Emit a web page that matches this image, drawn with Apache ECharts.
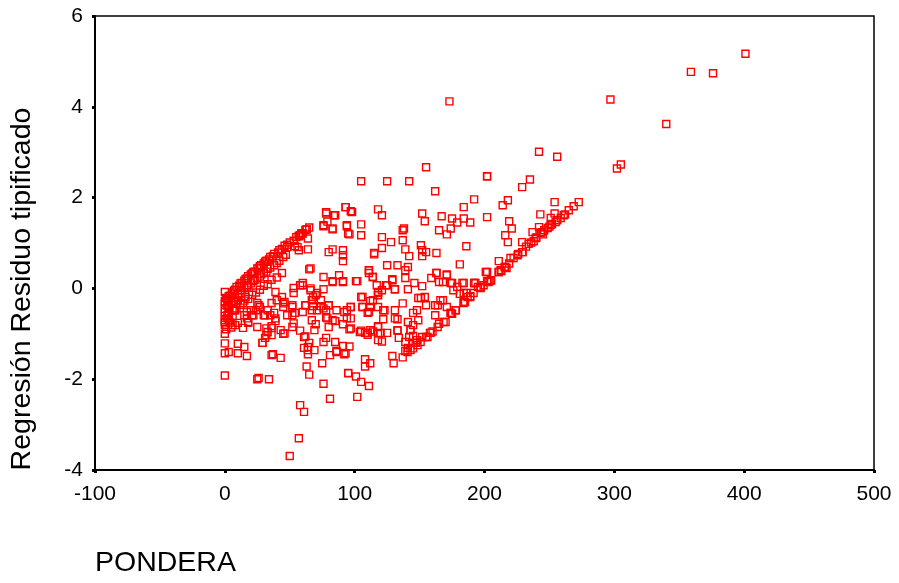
<!DOCTYPE html>
<html>
<head>
<meta charset="utf-8">
<script src="https://cdn.jsdelivr.net/npm/echarts@6/dist/echarts.min.js"></script>
<style>
html,body{margin:0;padding:0;background:#fff;}
#chart{width:899px;height:583px;}
</style>
</head>
<body>
<div id="chart"></div>
<script>
// Axis ticks
const xTicks = [-100, 0, 100, 200, 300, 400, 500];
const yTicks = [-4, -2, 0, 2, 4, 6];
const xTitle = 'PONDERA';
const yTitle = 'Regresión Residuo tipificado';

// [PONDERA, Regresión Residuo tipificado]
const puntosExtremos = [
  [401,5.17],[359,4.77],[376,4.74],[297,4.16],[340,3.62],[305,2.73],[302,2.64],[173,4.12],
  [155,2.67],[125,2.36],[105,2.36],[142,2.36],[162,2.14],[192,1.96],[202,2.47],[242,3.01],
  [256,2.90],[235,2.40],[229,2.23],[218,1.94],[214,1.83],[254,1.90]
];

const puntosLineaInferior = [
  [140.7,-1.40],[143,-1.36],[148.4,-1.25],[150.8,-1.18],[156.1,-1.07],[158.5,-0.98],[163.9,-0.85],
  [168.5,-0.74],[173.9,-0.54],[177.7,-0.48],[183.9,-0.32],[187,-0.19],[191.6,-0.10],[197,0.01],
  [199.3,0.07],[203.9,0.16],[210.9,0.36],[212.4,0.40],[215.5,0.47],[222.4,0.67],[225.5,0.73],
  [229.4,0.80],[237.9,1.04],[239.4,1.11],[243.3,1.22],[248.7,1.33],[251,1.40],[254.8,1.46],
  [258.7,1.55],[261,1.61],[264.9,1.72],[268.7,1.81],[272.6,1.90],
  [175,-0.56],[185,-0.30],[205,0.18],[213,0.38],[240,1.12],[250,1.36],[262,1.63],[145,-1.32],
  [160,-0.95],[139,-1.38],[141,-1.31],[147,-1.20],[155,-1.07],[165,-0.78],[170,-0.74],[178,-0.48],
  [193,0.12],[197,0.03],[202,0.16],[205,0.18],[211,0.36],[217,0.45],[219,0.55],[226,0.76],
  [232,0.92],[234,0.98],[236,1.01],[244,1.24],[246,1.28],[252,1.42],[256,1.50]
];

const puntosCentro = [
  [184,1.79],[118,1.74],[121,1.61],[97,1.70],[93,1.79],[152,1.65],[154,1.48],[167,1.59],
  [175,1.54],[184,1.54],[189,1.45],[179,1.45],[174,1.32],[165,1.28],[171,1.19],[105,1.41],
  [105,1.17],[94,1.39],[96,1.19],[121,1.13],[128,1.02],[137,1.28],[138,1.32],[137,1.06],
  [121,0.89],[115,0.75],[151,0.95],[152,0.84],[155,0.80],[152,0.71],[139,0.86],[142,0.71],
  [163,0.78],[186,0.93],[181,0.53],[125,0.51],[133,0.51],[141,0.47],[111,0.40],[114,0.25],
  [102,0.16],[139,0.40],[139,0.23],[129,0.20],[125,0.07],[131,-0.02],[141,-0.02],[146,0.12],
  [152,0.05],[159,0.23],[163,0.34],[171,0.29],[168,0.14],[175,0.12],[183,0.12],[192,0.12],
  [118,-0.08],[118,-0.15],[106,-0.19],[112,-0.28],[176,-0.04],[184,-0.10],[189,-0.19],[184,-0.30],
  [151,-0.21],[168,-0.26],[162,-0.37],[137,-0.33],
  [202,2.47],[202,1.57],[219,1.48],[221,1.32],[216,1.17],[218,1.02],[243,1.63],[251,1.55],
  [254,1.65],[242,1.35],[237,1.24],[245,1.19],[229,1.02],[229,0.80],[211,0.60],[202,0.36],
  [163,0.34],[165,0.14],[171,0.31],[174,0.12],[179,0.03],[184,0.12],[186,-0.10],[181,-0.12],
  [189,-0.17],[192,0.12],[195,0.03],[201,0.36],[203,0.14],[216,0.47],[220,0.67],[174,-0.54],
  [166,-0.26],[171,-0.41],[164,-0.37],[162,-0.59],[155,-0.37],[154,-0.19],[149,-0.21],[148,-0.48],
  [145,-0.54],[149,-0.70],[145,-0.81],[143,-0.92],[142,-1.07],[148,-1.14],[152,-1.07],[158,-0.98],
  [145,-1.20],[139,-1.18],[133,-0.92],[134,-1.09],[122,-0.48],[122,-0.68],[131,-0.66],[125,-0.98],
  [118,-0.83],[120,-0.98],[112,-0.92],[108,-0.98],[110,-0.54],[106,-0.41],[112,-0.41],[114,-0.26],
  [118,-0.10],[121,-0.04],[131,-0.02],[129,0.18],[124,0.07],[117,0.07],[111,0.34],[101,0.16],
  [97,-0.41],[97,-0.66],[97,-0.88],[106,-0.41],[111,-0.52],[118,-0.41],[123,-0.48],[131,-0.48],
  [133,-0.68],[141,-0.74],[96,-0.90],[105,-0.93],[110,-1.02],[114,-0.95],[118,-0.99],[121,-1.17],
  [133,-0.93],[143,-0.92],[145,-1.05],[96,-1.28],[93,-1.43],[129,-1.49],[130,-1.65],[137,-1.52],
  [108,-1.56],[108,-1.72],[112,-1.65],[95,-1.86],[101,-1.94],[105,-2.06],[111,-2.15],[102,-2.39]
];

const puntosBandaSuperior = [
  [0,-0.28],[1,-0.21],[2,-0.24],[3,-0.17],[4,-0.16],[6,-0.09],[7,-0.05],[8,-0.03],[9,0.03],
  [11,0.06],[12,0.11],[13,0.12],[15,0.17],[16,0.21],[17,0.22],[18,0.27],[20,0.31],[21,0.33],
  [22,0.36],[23,0.37],[25,0.44],[26,0.45],[27,0.49],[28,0.51],[30,0.55],[31,0.59],[32,0.61],
  [34,0.64],[35,0.69],[37,0.71],[38,0.76],[41,0.79],[42,0.84],[44,0.87],[46,0.94],[48,0.96],
  [50,1.01],[53,1.05],[55,1.13],[57,1.16],[59,1.21],[62,1.29],[63,1.30],[65,1.34],
  [0,-0.45],[2,-0.39],[3,-0.36],[5,-0.31],[7,-0.28],[8,-0.21],[10,-0.14],[12,-0.11],[13,-0.04],
  [15,0.01],[17,0.04],[18,0.07],[20,0.11],[22,0.16],[23,0.19],[25,0.23],[27,0.26],[28,0.31],
  [30,0.34],[32,0.37],[33,0.43],[35,0.46],[38,0.51],[40,0.56],[42,0.61],[45,0.69],[47,0.74],
  [0,-0.61],[3,-0.54],[6,-0.49],[9,-0.44],[12,-0.36],[15,-0.27],[18,-0.23],[21,-0.14],[24,-0.09],
  [27,-0.03],[30,0.06],[33,0.09],[36,0.19],[40,0.24],[44,0.34],
  [58,1.17],[60,1.21],[63,1.30],[64,1.10],[64,0.86],[48,0.91],[56,0.91],[57,0.84],[54,0.93],
  [59,1.21],[57,1.15],[78,1.68],[78,1.65],[85,1.61],[93,1.79],[98,1.68],[84,1.61],[76,1.37],
  [83,1.30],[79,1.47],[94,1.37],[95,1.21],[76,1.39],[83,1.32],[80,0.80],[83,0.86],[91,0.84],
  [91,0.73],[91,0.60],[65,0.42],[66,0.44],[76,0.25],[83,0.16],[88,0.29],[91,0.16],[83,0.14],
  [91,0.14],[60,0.07],[66,0.00],[76,-0.02],[70,-0.15],[67,-0.26],[62,-0.37],[80,-0.37],[52,-0.41],
  [44,-0.19],[53,-0.10],[46,-0.30],[39,-0.08],[53,0.01],[58,0.07],[60,0.12],[66,-0.04],[68,-0.19],
  [71,-0.10],[74,-0.26],[68,-0.39],[74,-0.39],[78,-0.48],[79,-0.66],[83,-0.70],[86,-0.48],[94,-0.48],
  [97,-0.41],[115,0.78],[111,0.40],[114,0.25],[105,-0.19]
];

const puntosIzquierda = [
  [0,-0.08],[2,-0.26],[3,-0.41],[0,-0.52],[2,-0.59],[7,-0.48],[10,-0.26],[14,-0.32],[16,-0.19],
  [20,-0.48],[22,-0.59],[17,-0.66],[25,-0.32],[27,-0.41],[31,-0.59],[33,-0.48],[36,-0.32],
  [39,-0.66],[40,-0.26],[45,-0.41],[48,-0.59],[43,-0.92],[36,-0.87],[33,-0.96],[29,-1.20],
  [10,-0.76],[6,-0.81],[14,-0.87],[18,-0.74],[25,-0.85],[0,-0.70],[0,-0.80],[1,-0.90],[2,-0.66],
  [4,-0.75],[5,-0.86],[6,-0.62],[0,-0.74],[3,-0.70],[15,-0.59],[21,-0.59],[24,-0.48],[26,-0.37],
  [17,-0.52],[8,-0.48],[6,-0.33],[0,-0.33],[45,-0.33],[52,-0.37],[62,-0.37],[32,-0.88],[36,-0.83],
  [38,-0.54],[35,-0.59],[30,-0.59],[39,-0.72],[18,-0.76],[8,-0.81],[52,-0.59],[54,-0.54],[60,-0.52],
  [67,-0.48],[71,-0.48],[76,-0.44],[78,-0.64],[80,-0.37],[67,-0.70],[70,-0.79],[69,-0.92],[80,-0.85],
  [85,-0.72],[91,-0.79],[92,-0.52],[94,-0.66],[52,-0.85],[53,-0.77],[58,-0.93],[62,-1.06],[65,-1.20],
  [46,-0.99],[45,-1.00],[31,-1.09],[32,-1.03],[36,-1.03],[29,-1.20],[10,-1.22],[15,-1.29],[0,-1.00],
  [0,-1.21],[0,-1.43],[3,-1.40],[10,-1.43],[17,-1.49],[36,-1.47],[37,-1.45],[43,-1.53],[61,-1.07],
  [64,-1.29],[64,-1.36],[69,-1.36],[61,-1.31],[64,-1.45],[76,-1.18],[78,-1.09],[81,-1.47],[86,-1.40],
  [91,-1.27],[92,-1.45],[85,-1.18],[86,-1.38],[104,-0.96],[110,-0.98],[118,-0.85],[118,-1.14]
];

const puntosInferiores = [
  [0,-1.92],[25,-2.00],[26,-1.97],[34,-2.00],[63,-1.72],[65,-1.90],[75,-1.65],[76,-2.10],
  [81,-2.43],[95,-1.87],[58,-2.57],[61,-2.72],[57,-3.30],[50,-3.69]
];

const allPoints = [].concat(puntosExtremos, puntosLineaInferior, puntosCentro,
  puntosBandaSuperior, puntosIzquierda, puntosInferiores);

const FONT = '"Liberation Sans", Arial, sans-serif';
const chart = echarts.init(document.getElementById('chart'), null, {renderer: 'canvas'});
chart.setOption({
  backgroundColor: '#ffffff',
  animation: false,
  grid: {left: 95, right: 25, top: 16, bottom: 113, show: true, borderColor: '#000', borderWidth: 1.5, backgroundColor: '#fff'},
  xAxis: {
    type: 'value', min: xTicks[0], max: xTicks[xTicks.length - 1], interval: 100,
    axisLine: {show: true, onZero: false, lineStyle: {color: '#000', width: 2}},
    axisTick: {show: true, length: 3, lineStyle: {color: '#000', width: 3}},
    axisLabel: {color: '#000', fontSize: 21, fontFamily: FONT, margin: 14},
    splitLine: {show: false}
  },
  yAxis: {
    type: 'value', min: yTicks[0], max: yTicks[yTicks.length - 1], interval: 2,
    axisLine: {show: true, onZero: false, lineStyle: {color: '#000', width: 2}},
    axisTick: {show: true, length: 3, lineStyle: {color: '#000', width: 3}},
    axisLabel: {color: '#000', fontSize: 21, fontFamily: FONT, margin: 12},
    splitLine: {show: false}
  },
  graphic: [
    {type: 'text', x: 22, y: 289, rotation: Math.PI / 2,
     style: {text: yTitle, fill: '#000', font: '28.5px ' + FONT, textAlign: 'center', textVerticalAlign: 'middle'}},
    {type: 'text', x: 95, y: 563,
     style: {text: xTitle, fill: '#000', font: '28.5px ' + FONT, textAlign: 'left', textVerticalAlign: 'middle'}}
  ],
  series: [{
    type: 'scatter',
    data: allPoints,
    symbol: 'rect',
    symbolSize: 7,
    itemStyle: {color: 'rgba(255,255,255,0)', borderColor: '#ff0000', borderWidth: 1.4, opacity: 1},
    emphasis: {disabled: true},
    silent: true
  }]
});
</script>
</body>
</html>
